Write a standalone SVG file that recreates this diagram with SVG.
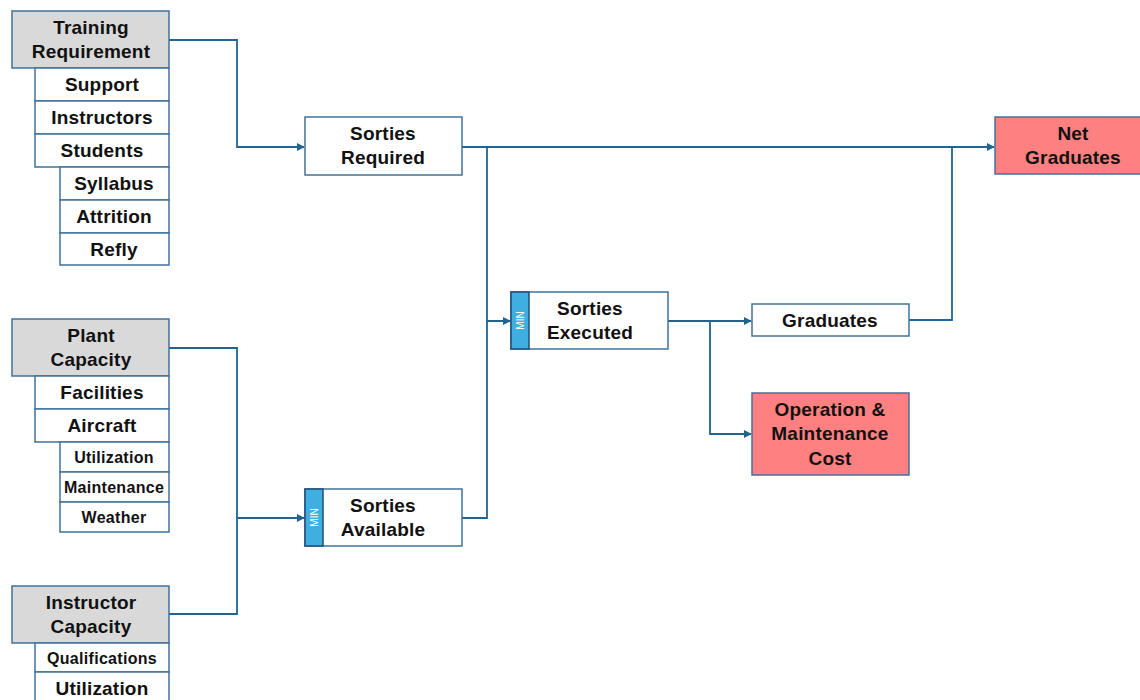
<svg xmlns="http://www.w3.org/2000/svg" width="1140" height="700" viewBox="0 0 1140 700">
<style>
.bx{fill:#fff;stroke:#41719c;stroke-width:1.5}
.hd{fill:#d9d9d9;stroke:#41719c;stroke-width:1.5}
.rd{fill:#ff8080;stroke:#41719c;stroke-width:1.5}
.mn{fill:#3faee0;stroke:#1f4e79;stroke-width:1.5}
.t{font-family:"Liberation Sans",Arial,sans-serif;font-weight:bold;font-size:19px;letter-spacing:0.2px;fill:#111;text-anchor:middle}
.s{font-size:16px;letter-spacing:0.3px}
.m{font-family:"Liberation Sans",Arial,sans-serif;font-size:10px;fill:#fff;text-anchor:middle}
.c{fill:none;stroke:#21648f;stroke-width:1.8}
</style>
<defs>
<marker id="a" viewBox="0 0 10 10" refX="9" refY="5" markerWidth="4.5" markerHeight="4.5" orient="auto" markerUnits="strokeWidth">
<path d="M0,0 L10,5 L0,10 z" fill="#21648f"/>
</marker>
</defs>
<rect width="1140" height="700" fill="#fff"/>
<g id="connectors">
<path class="c" d="M169,40 H237 V147 H304" marker-end="url(#a)"/>
<path class="c" d="M462,147 H994" marker-end="url(#a)"/>
<path class="c" d="M487,147 V321 H510" marker-end="url(#a)"/>
<path class="c" d="M462,518 H487 V321"/>
<path class="c" d="M169,348 H237 V614 H169"/>
<path class="c" d="M237,518 H304" marker-end="url(#a)"/>
<path class="c" d="M668,321 H751" marker-end="url(#a)"/>
<path class="c" d="M710,321 V434 H751" marker-end="url(#a)"/>
<path class="c" d="M909,320 H952 V147"/>
</g>
<g id="training-requirement">
<rect class="hd" x="12" y="11" width="157" height="57"/>
<text class="t" x="91" y="34">Training</text>
<text class="t" x="91" y="58">Requirement</text>
</g>
<g id="support"><rect class="bx" x="35" y="68" width="134" height="33"/><text class="t" x="102" y="91">Support</text></g>
<g id="instructors"><rect class="bx" x="35" y="101" width="134" height="33"/><text class="t" x="102" y="124">Instructors</text></g>
<g id="students"><rect class="bx" x="35" y="134" width="134" height="33"/><text class="t" x="102" y="157">Students</text></g>
<g id="syllabus"><rect class="bx" x="60" y="167" width="109" height="33"/><text class="t" x="114" y="190">Syllabus</text></g>
<g id="attrition"><rect class="bx" x="60" y="200" width="109" height="33"/><text class="t" x="114" y="223">Attrition</text></g>
<g id="refly"><rect class="bx" x="60" y="233" width="109" height="32"/><text class="t" x="114" y="256">Refly</text></g>

<g id="plant-capacity">
<rect class="hd" x="12" y="319" width="157" height="57"/>
<text class="t" x="91" y="342">Plant</text>
<text class="t" x="91" y="366">Capacity</text>
</g>
<g id="facilities"><rect class="bx" x="35" y="376" width="134" height="33"/><text class="t" x="102" y="399">Facilities</text></g>
<g id="aircraft"><rect class="bx" x="35" y="409" width="134" height="33"/><text class="t" x="102" y="432">Aircraft</text></g>
<g id="utilization-a"><rect class="bx" x="60" y="442" width="109" height="30"/><text class="t s" x="114" y="463">Utilization</text></g>
<g id="maintenance"><rect class="bx" x="60" y="472" width="109" height="30"/><text class="t s" x="114" y="493">Maintenance</text></g>
<g id="weather"><rect class="bx" x="60" y="502" width="109" height="30"/><text class="t s" x="114" y="523">Weather</text></g>

<g id="instructor-capacity">
<rect class="hd" x="12" y="586" width="157" height="57"/>
<text class="t" x="91" y="609">Instructor</text>
<text class="t" x="91" y="633">Capacity</text>
</g>
<g id="qualifications"><rect class="bx" x="35" y="643" width="134" height="29"/><text class="t s" x="102" y="664">Qualifications</text></g>
<g id="utilization-i"><rect class="bx" x="35" y="672" width="134" height="32"/><text class="t" x="102" y="695">Utilization</text></g>

<g id="sorties-required">
<rect class="bx" x="305" y="117" width="157" height="58"/>
<text class="t" x="383" y="140">Sorties</text>
<text class="t" x="383" y="164">Required</text>
</g>
<g id="sorties-available">
<rect class="bx" x="305" y="489" width="157" height="57"/>
<rect class="mn" x="305" y="489" width="18" height="57"/>
<text class="m" transform="translate(317.5,517.5) rotate(-90)">MIN</text>
<text class="t" x="383" y="512">Sorties</text>
<text class="t" x="383" y="536">Available</text>
</g>
<g id="sorties-executed">
<rect class="bx" x="511" y="292" width="157" height="57"/>
<rect class="mn" x="511" y="292" width="18" height="57"/>
<text class="m" transform="translate(523.5,320.5) rotate(-90)">MIN</text>
<text class="t" x="590" y="315">Sorties</text>
<text class="t" x="590" y="339">Executed</text>
</g>
<g id="graduates">
<rect class="bx" x="752" y="304" width="157" height="32"/>
<text class="t" x="830" y="327">Graduates</text>
</g>
<g id="om-cost">
<rect class="rd" x="752" y="393" width="157" height="82"/>
<text class="t" x="830" y="416">Operation &amp;</text>
<text class="t" x="830" y="440">Maintenance</text>
<text class="t" x="830" y="465">Cost</text>
</g>
<g id="net-graduates">
<rect class="rd" x="995" y="117" width="150" height="57"/>
<text class="t" x="1073" y="140">Net</text>
<text class="t" x="1073" y="164">Graduates</text>
</g>
</svg>
